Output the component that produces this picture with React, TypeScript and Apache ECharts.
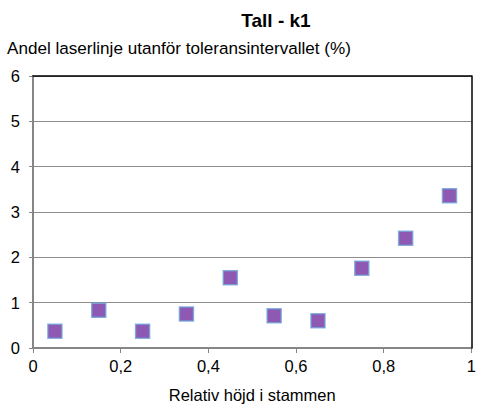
import React, { useEffect, useRef } from "react";
import * as echarts from "echarts";

const xValues = [0.05, 0.15, 0.25, 0.35, 0.45, 0.55, 0.65, 0.75, 0.85, 0.95];
const yValues = [0.37, 0.83, 0.37, 0.75, 1.55, 0.71, 0.6, 1.76, 2.42, 3.36];

const titleText = "Tall - k1";
const yAxisTitle = "Andel laserlinje utanför toleransintervallet (%)";
const xAxisTitle = "Relativ höjd i stammen";

const FONT = "'Liberation Sans', Arial, sans-serif";

export default function App() {
  const ref = useRef<HTMLDivElement>(null);

  useEffect(() => {
    if (!ref.current) return;
    document.body.style.margin = "0";
    const chart = echarts.init(ref.current, null, { renderer: "svg" });
    const points = xValues.map((x, i) => [x, yValues[i]]);
    chart.setOption({
      animation: false,
      backgroundColor: "#ffffff",
      textStyle: { fontFamily: FONT },
      title: {
        text: titleText,
        left: 271,
        top: 6,
        textAlign: "center",
        textStyle: { fontFamily: FONT, fontSize: 19, fontWeight: "bold", color: "#000" },
      },
      graphic: [
        {
          type: "text",
          left: 7,
          top: 40,
          style: { text: yAxisTitle, font: `17.1px ${FONT}`, fill: "#000" },
        },
      ],
      grid: {
        left: 33,
        right: 6,
        top: 76,
        bottom: 58,
        show: false,
      },
      xAxis: [
        {
          type: "value",
          min: 0,
          max: 1,
          interval: 0.2,
          name: xAxisTitle,
          nameLocation: "middle",
          nameGap: 38,
          nameTextStyle: { fontFamily: FONT, fontSize: 16.5, color: "#000" },
          axisLine: { show: true, lineStyle: { color: "#868686", width: 2 } },
          axisTick: { show: true, length: 5, lineStyle: { color: "#868686", width: 1 } },
          axisLabel: {
            fontFamily: FONT,
            fontSize: 16.5,
            color: "#000",
            margin: 9,
            formatter: (v: number) => String(Math.round(v * 10) / 10).replace(".", ","),
          },
          splitLine: { show: false },
          z: 3,
        },
        {
          type: "value",
          position: "top",
          min: 0,
          max: 1,
          interval: 0.2,
          axisLine: { show: true, onZero: false, lineStyle: { color: "#000", width: 1.5 } },
          axisTick: { show: false },
          axisLabel: { show: false },
          splitLine: { show: false },
          z: 4,
        },
      ],
      yAxis: [
        {
          type: "value",
          min: 0,
          max: 6,
          interval: 1,
          axisLine: { show: true, lineStyle: { color: "#868686", width: 2 } },
          axisTick: { show: true, length: 4, lineStyle: { color: "#868686", width: 1 } },
          axisLabel: { fontFamily: FONT, fontSize: 16.5, color: "#000", margin: 13 },
          splitLine: { show: true, lineStyle: { color: "#8c8c8c", width: 1 } },
          z: 3,
        },
        {
          type: "value",
          position: "right",
          min: 0,
          max: 6,
          interval: 1,
          axisLine: { show: true, onZero: false, lineStyle: { color: "#000", width: 1.5 } },
          axisTick: { show: false },
          axisLabel: { show: false },
          splitLine: { show: false },
          z: 4,
        },
      ],
      series: [
        {
          type: "scatter",
          data: points,
          symbol: "rect",
          symbolSize: 14,
          itemStyle: { color: "#7030A0", borderColor: "#6fa0d8", borderWidth: 1.5 },
          z: 5,
        },
      ],
    });
    return () => chart.dispose();
  }, []);

  return <div ref={ref} style={{ width: 479, height: 408 }} />;
}
